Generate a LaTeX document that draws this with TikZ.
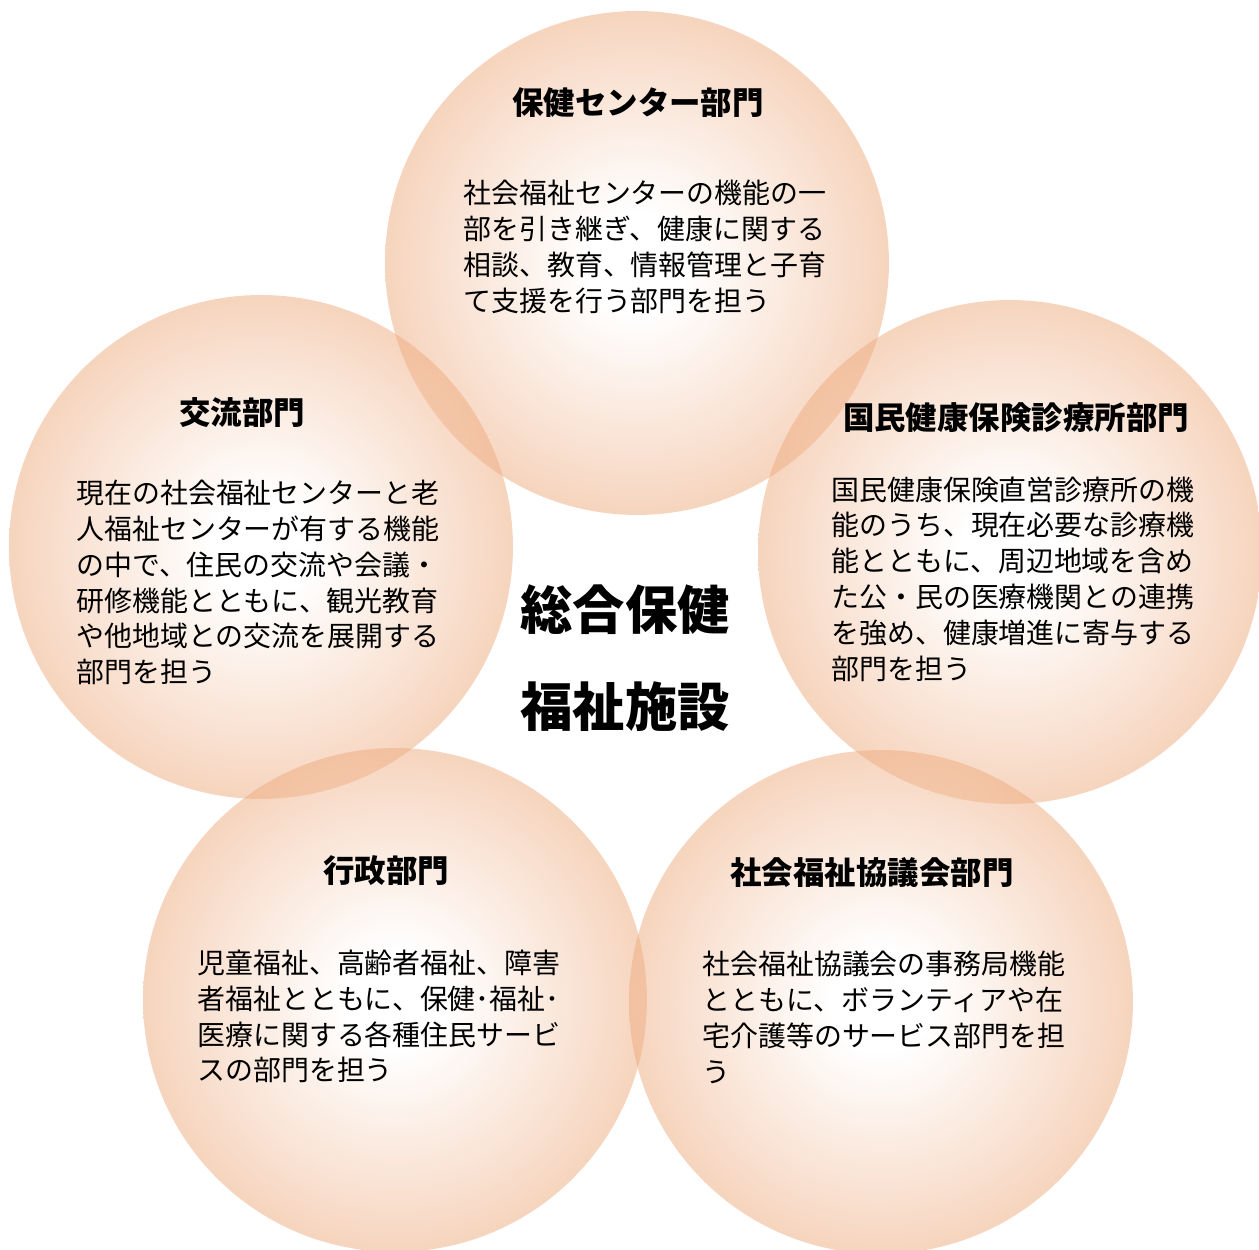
\documentclass[tikz,border=0pt]{standalone}
\usepackage{fontspec}
\setmainfont{Noto Sans CJK JP}
\newfontfamily\heavyfont{Noto Sans CJK JP}[UprightFont=* Black]
\usepackage{xcolor}
\usepackage{tikz}
\usetikzlibrary{shapes,backgrounds}
\definecolor{peach}{RGB}{238,170,125}
\pgfdeclareradialshading{glow}{\pgfpoint{0bp}{0bp}}{color(0bp)=(white); color(5bp)=(white); color(25bp)=(peach); color(50bp)=(peach)}
\tikzstyle{dept}=[circle, shading=glow,% white in the middle, peach at the rim
fill opacity=0.5, minimum size=10.08cm, inner sep=0pt]
\tikzstyle{head}=[font={\bfseries\fontsize{17.9}{20}\selectfont}, inner sep=0pt]
\tikzstyle{body}=[anchor=west, align=left, inner sep=0pt,
font={\fontsize{15.9}{20.4}\selectfont}]
\tikzstyle{core}=[align=center, inner sep=0pt,
font={\heavyfont\fontsize{29.8}{55}\selectfont}]

\begin{document}
\begin{tikzpicture}[x=0.02cm, y=0.02cm]
\useasboundingbox (0,0) rectangle (1259,1250);
\node[dept] (hoken) at (637, 987) {};
\node[dept] (koryu) at (261, 703) {};
\node[dept] (kokuho) at (1010, 698) {};
\node[dept] (gyosei) at (395, 250) {};
\node[dept] (shakyo) at (881, 248) {};

\node[head] (hokent) at (638, 1147) {保健センター部門};
\node[body] (hokenb) at (463, 1003) {社会福祉センターの機能の一\\部を引き継ぎ、健康に関する\\相談、教育、情報管理と子育\\て支援を行う部門を担う};

\node[head] (koryut) at (242, 837) {交流部門};
\node[body] (koryub) at (76, 667.5) {現在の社会福祉センターと老\\人福祉センターが有する機能\\の中で、住民の交流や会議・\\研修機能とともに、観光教育\\や他地域との交流を展開する\\部門を担う};

\node[head] (kokuhot) at (1016, 832) {国民健康保険診療所部門};
\node[body] (kokuhob) at (831, 671) {国民健康保険直営診療所の機\\能のうち、現在必要な診療機\\能とともに、周辺地域を含め\\た公・民の医療機関との連携\\を強め、健康増進に寄与する\\部門を担う};

\node[head] (gyoseit) at (386, 379) {行政部門};
\node[body] (gyoseib) at (197, 233.5) {児童福祉、高齢者福祉、障害\\者福祉とともに、保健･福祉･\\医療に関する各種住民サービ\\スの部門を担う};

\node[head] (shakyot) at (872, 377) {社会福祉協議会部門};
\node[body] (shakyob) at (702, 232.5) {社会福祉協議会の事務局機能\\とともに、ボランティアや在\\宅介護等のサービス部門を担\\う};

\node[core] (shisetsu) at (625, 592) {総合保健\\福祉施設};
\end{tikzpicture}
\end{document}
